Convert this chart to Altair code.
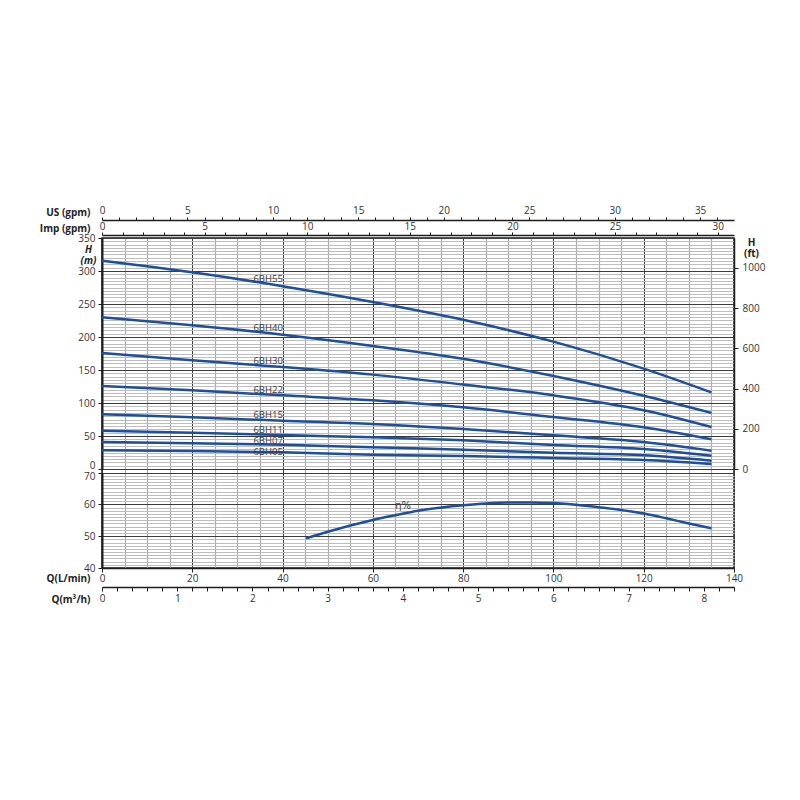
import altair as alt
import numpy as np
import pandas as pd

# ---------------- data ----------------
q_points = [0, 20, 40, 60, 80, 100, 120, 135]          # Q (L/min)
models = ["6BH55", "6BH40", "6BH30", "6BH22", "6BH15", "6BH11", "6BH07", "6BH05"]
head_55 = [315.7, 298, 277, 253, 226, 193, 152, 116]
head_40 = [229.8, 217.7, 203.5, 186.5, 167, 141, 111, 85]
head_30 = [175.8, 164.6, 154.5, 143, 128, 111.6, 89, 63.6]
head_22 = [125.8, 119.2, 111.6, 104, 93.4, 78.8, 63.1, 45]
head_15 = [82.8, 78.3, 73.2, 68.2, 60.6, 51, 40.9, 27.8]
head_11 = [58, 55, 51.5, 48, 43.4, 36.4, 30.3, 20.2]
head_07 = [41, 38.9, 36.9, 32.8, 29.3, 24.7, 20.7, 12.6]
head_05 = [28.3, 27.3, 25.3, 21.7, 19.7, 16.7, 13.6, 7.6]
heads = [head_55, head_40, head_30, head_22, head_15, head_11, head_07, head_05]

eff_q = [45.2, 50, 60, 65, 70, 80, 85, 90, 95, 100, 105, 110, 120, 125, 130, 135]
eff_val = [49.3, 51.4, 55.1, 56.6, 58.0, 59.7, 60.3, 60.6, 60.6, 60.4, 59.9, 59.1, 57.1, 55.6, 54.0, 52.5]

label_q = 36.8
eta_text = "η%"
eta_q = 66.7
eta_val = 59.4

# tick values
q_major = list(range(0, 141, 20))
q_minor = [v for v in range(0, 141, 5) if v % 20]
h_major = list(range(0, 351, 50))
h_minor = [v for v in range(0, 351, 5) if v % 50]
eff_major = [40, 50, 60, 70]
eff_minor = [v for v in range(40, 71) if v % 10]
ft_ticks = list(range(0, 1001, 200))
us_ticks = list(range(0, 37))
imp_ticks = list(range(0, 31))
m3h_ticks = [round(i * 0.2, 1) for i in range(0, 43)]

# unit conversions
Q_MAX = 140
H_MAX = 350
L_PER_USGAL = 3.78541
L_PER_IMPGAL = 4.54609
M_PER_FT = 0.3048

# ---------------- styling ----------------
FONT = "Open Sans"
BLUE = "#1d4f9c"
MAJOR = "#3c3c3c"
MINOR_V = "#a9a9a9"
MINOR_H = "#bdbdbd"
DARK = "#1e1e1e"
TOP_RANGE = [231, 0]
BOT_RANGE = [330, 234.5]

qscale = alt.Scale(domain=[0, Q_MAX], nice=False, zero=False)
hscale = alt.Scale(domain=[0, H_MAX], range=TOP_RANGE, nice=False, zero=False)
escale = alt.Scale(domain=[40, 70], range=BOT_RANGE, nice=False, zero=False)


def grid_axis(values, color, orient, width=1):
    return alt.Axis(values=values, grid=True, gridColor=color, gridWidth=width,
                    labels=False, ticks=False, domain=False, title=None,
                    orient=orient)


# ---------------- data frames ----------------
rows = []
for m, h in zip(models, heads):
    for q, v in zip(q_points, h):
        rows.append({"model": m, "Q": q, "H": v})
curve_df = pd.DataFrame(rows)

eff_df = pd.DataFrame({"Q": eff_q, "E": eff_val})

lab_df = pd.DataFrame({
    "model": models,
    "Q": [label_q] * len(models),
    "H": [float(np.interp(label_q, q_points, h)) for h in heads],
})

eta_df = pd.DataFrame({"Q": [eta_q], "E": [eta_val], "t": [eta_text]})

grid_df = pd.DataFrame({"Q": [0, Q_MAX], "H": [0, H_MAX], "E": [40, 70]})
us_df = pd.DataFrame({"v": [0, Q_MAX / L_PER_USGAL]})
imp_df = pd.DataFrame({"v": [0, Q_MAX / L_PER_IMPGAL]})
m3h_df = pd.DataFrame({"v": [0, Q_MAX * 60 / 1000]})
ft_df = pd.DataFrame({"v": [0, H_MAX / M_PER_FT]})

# ---------------- layers ----------------
top_minor = alt.Chart(grid_df).mark_point(opacity=0).encode(
    x=alt.X("Q:Q", scale=qscale, axis=grid_axis(q_minor, MINOR_V, "bottom", 1.2)),
    y=alt.Y("H:Q", scale=hscale, axis=grid_axis(h_minor, MINOR_H, "left")),
)

bot_minor = alt.Chart(grid_df).mark_point(opacity=0).encode(
    x=alt.X("Q:Q", scale=qscale, axis=grid_axis(q_minor, MINOR_V, "bottom", 1.2)),
    y=alt.Y("E:Q", scale=escale, axis=grid_axis(eff_minor, MINOR_H, "left")),
)

curves = alt.Chart(curve_df).mark_line(
    color=BLUE, strokeWidth=2.5, interpolate="monotone"
).encode(
    x=alt.X("Q:Q", scale=qscale, axis=grid_axis(q_major, MAJOR, "bottom")),
    y=alt.Y("H:Q", scale=hscale, axis=alt.Axis(
        values=h_major, grid=True, gridColor=MAJOR, gridWidth=1, orient="left",
        tickSize=4, tickColor=DARK, domainColor=DARK, domainWidth=2,
        labelPadding=3,
        labelOffset={"condition": {"test": "datum.value === 0", "value": -4}, "value": 0},
        title=["H", "(m)"], titleX=-14, titleY=6, titleAngle=0,
        titleAlign="center", titleBaseline="top", titleFontStyle="italic",
        titleFontWeight="bold", titleLineHeight=11)),
    detail="model:N",
)

eff_line = alt.Chart(eff_df).mark_line(
    color=BLUE, strokeWidth=2.5, interpolate="monotone"
).encode(
    x=alt.X("Q:Q", scale=qscale, axis=alt.Axis(
        values=q_major, grid=True, gridColor=MAJOR, gridWidth=1, orient="bottom",
        tickSize=4, tickColor=DARK, domainColor=DARK, domainWidth=1.5,
        labelPadding=1, labelFlush=False, labelOverlap=False,
        title="Q(L/min)", titleX=-12, titleY=10, titleAngle=0,
        titleAlign="right", titleBaseline="middle", titleFontWeight="bold")),
    y=alt.Y("E:Q", scale=escale, axis=alt.Axis(
        values=eff_major, grid=True, gridColor=MAJOR, gridWidth=1, orient="left",
        tickSize=4, tickColor=DARK, domainColor=DARK, domainWidth=2,
        labelPadding=3,
        labelOffset={"condition": {"test": "datum.value === 70", "value": 4}, "value": 0},
        title=None)),
)

lab_main = alt.Chart(lab_df).transform_filter(
    "datum.model != '6BH07' && datum.model != '6BH05'"
).mark_text(baseline="bottom", fontSize=9.5, color="#3a3a3a", font=FONT, dy=0).encode(
    x=alt.X("Q:Q", scale=qscale, axis=None),
    y=alt.Y("H:Q", scale=hscale, axis=None),
    text="model:N",
)
lab_07 = alt.Chart(lab_df).transform_filter("datum.model == '6BH07'").mark_text(
    baseline="bottom", fontSize=9.5, color="#3a3a3a", font=FONT, dy=2
).encode(
    x=alt.X("Q:Q", scale=qscale, axis=None),
    y=alt.Y("H:Q", scale=hscale, axis=None),
    text="model:N",
)
lab_05 = alt.Chart(lab_df).transform_filter("datum.model == '6BH05'").mark_text(
    baseline="bottom", fontSize=9.5, color="#3a3a3a", font=FONT, dy=4.5
).encode(
    x=alt.X("Q:Q", scale=qscale, axis=None),
    y=alt.Y("H:Q", scale=hscale, axis=None),
    text="model:N",
)

eta_lab = alt.Chart(eta_df).mark_text(
    baseline="middle", fontSize=10, color="#3a3a3a", font="DejaVu Sans"
).encode(
    x=alt.X("Q:Q", scale=qscale, axis=None),
    y=alt.Y("E:Q", scale=escale, axis=None),
    text="t:N",
)

us_layer = alt.Chart(us_df).mark_point(opacity=0).encode(
    x=alt.X("v:Q", scale=alt.Scale(domain=[0, Q_MAX / L_PER_USGAL], nice=False, zero=False),
            axis=alt.Axis(orient="top", offset=18, values=us_ticks, grid=False,
                          labelExpr="datum.value % 5 === 0 ? datum.label : ''",
                          tickSize=3, tickColor=DARK, domainColor=DARK, domainWidth=1.5,
                          labelPadding=2, labelFlush=False, labelOverlap=False,
                          title="US (gpm)", titleX=-12, titleY=-8, titleAngle=0,
                          titleAlign="right", titleBaseline="middle",
                          titleFontWeight="bold")),
)

imp_layer = alt.Chart(imp_df).mark_point(opacity=0).encode(
    x=alt.X("v:Q", scale=alt.Scale(domain=[0, Q_MAX / L_PER_IMPGAL], nice=False, zero=False),
            axis=alt.Axis(orient="top", offset=3, values=imp_ticks, grid=False,
                          labelExpr="datum.value % 5 === 0 ? datum.label : ''",
                          tickSize=3, tickColor=DARK, domainColor=DARK, domainWidth=1.5,
                          labelPadding=1, labelFlush=False, labelOverlap=False,
                          title="Imp (gpm)", titleX=-12, titleY=-7, titleAngle=0,
                          titleAlign="right", titleBaseline="middle",
                          titleFontWeight="bold")),
)

m3h_layer = alt.Chart(m3h_df).mark_point(opacity=0).encode(
    x=alt.X("v:Q", scale=alt.Scale(domain=[0, Q_MAX * 60 / 1000], nice=False, zero=False),
            axis=alt.Axis(orient="bottom", offset=19, values=m3h_ticks, grid=False,
                          labelExpr="abs(datum.value - round(datum.value)) < 0.001 ? format(datum.value, 'd') : ''",
                          tickSize=4, tickColor=DARK, domainColor=DARK, domainWidth=1.5,
                          labelPadding=2, labelFlush=False, labelOverlap=False,
                          title="Q(m³/h)", titleX=-12, titleY=12, titleAngle=0,
                          titleAlign="right", titleBaseline="middle",
                          titleFontWeight="bold")),
)

ft_layer = alt.Chart(ft_df).mark_point(opacity=0).encode(
    y=alt.Y("v:Q", scale=alt.Scale(domain=[0, H_MAX / M_PER_FT], range=TOP_RANGE, nice=False, zero=False),
            axis=alt.Axis(orient="right", values=ft_ticks, grid=False, format="d",
                          tickSize=4, tickColor=DARK, domainColor=DARK, domainWidth=1.5,
                          labelPadding=4,
                          title=["H", "(ft)"], titleX=17, titleY=-1, titleAngle=0,
                          titleAlign="center", titleBaseline="top",
                          titleFontWeight="bold", titleLineHeight=11)),
)

chart = alt.layer(
    top_minor, bot_minor, curves, eff_line, lab_main, lab_07, lab_05, eta_lab,
    us_layer, imp_layer, m3h_layer, ft_layer,
).resolve_scale(
    x="independent", y="independent"
).resolve_axis(
    x="independent", y="independent"
).properties(
    width=632, height=330,
    padding={"left": 94, "top": 230, "right": 58, "bottom": 60},
    autosize=alt.AutoSizeParams(type="none"),
    background="white",
).configure_view(
    stroke=DARK, strokeWidth=1.5
).configure_axis(
    labelFont=FONT, titleFont=FONT, labelFontSize=10, titleFontSize=10,
    labelColor="#333", titleColor="#222",
)

chart.save("out.html", embed_options={"renderer": "svg", "actions": False})
